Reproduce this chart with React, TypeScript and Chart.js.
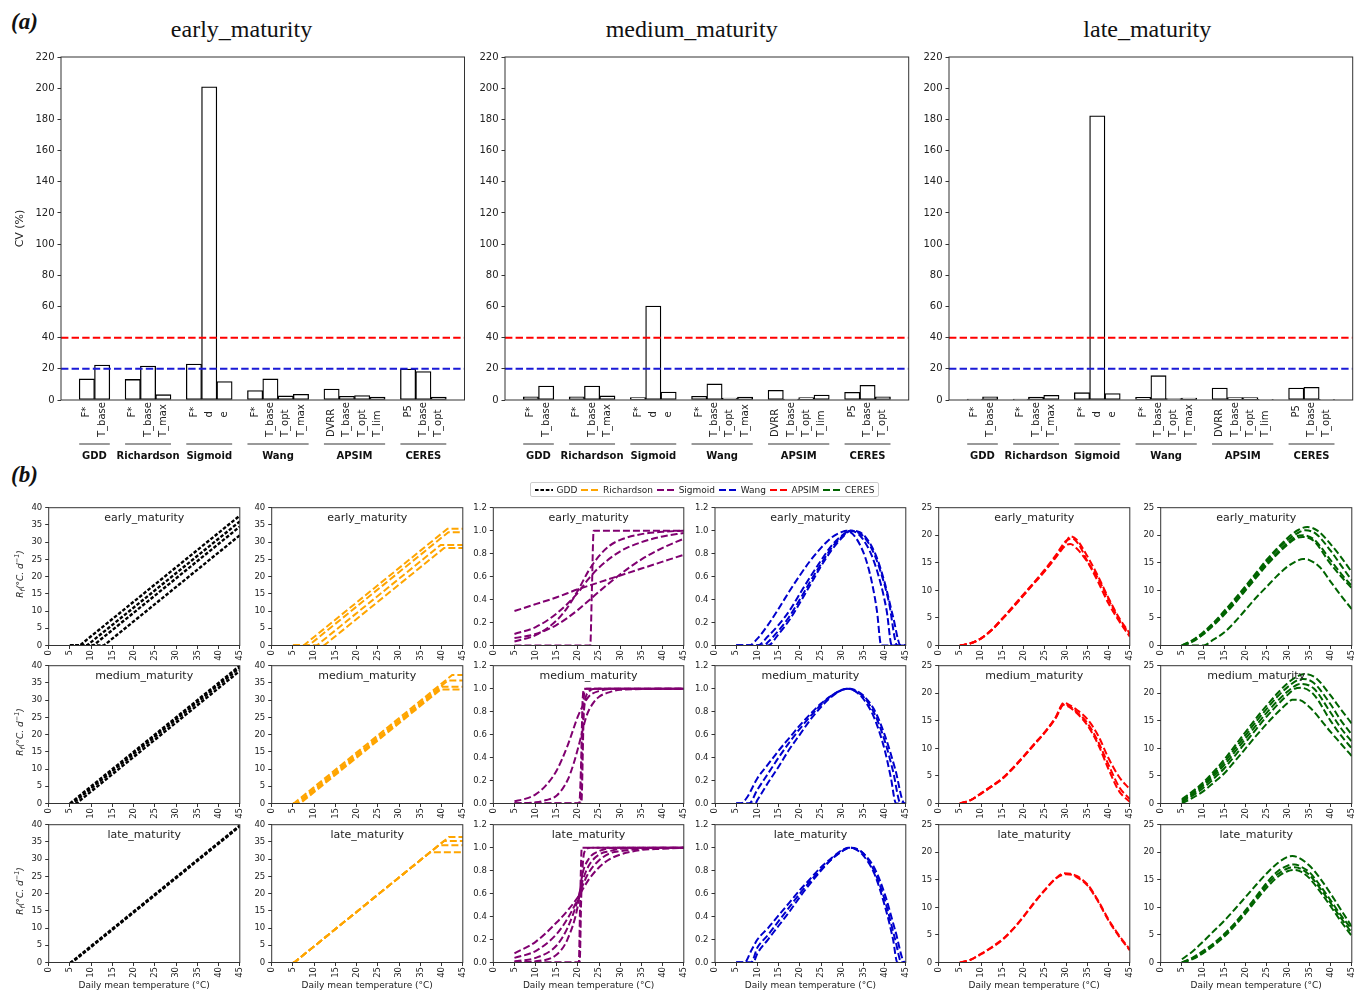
import React, { useEffect, useRef } from "react";
import { Chart, registerables } from "chart.js";

Chart.register(...registerables);
Chart.defaults.font.family = "'DejaVu Sans', sans-serif";
Chart.defaults.color = "#222";

type Pt = [number, number];

// ---------------- Panel (a) data ----------------
const paramLabels = ["F*", "T_base", "F*", "T_base", "T_max", "F*", "d", "e", "F*", "T_base", "T_opt", "T_max", "DVRR", "T_base", "T_opt", "T_lim", "P5", "T_base", "T_opt"];
const paramSlots = [0, 1, 3, 4, 5, 7, 8, 9, 11, 12, 13, 14, 16, 17, 18, 19, 21, 22, 23];
const modelNames = ["GDD", "Richardson", "Sigmoid", "Wang", "APSIM", "CERES"];
const modelSpans = [[0, 1], [3, 5], [7, 9], [11, 14], [16, 19], [21, 23]];
const cvEarly = [13.5, 22.4, 13.2, 21.8, 3.4, 23.1, 200.9, 11.8, 6.0, 13.5, 2.6, 3.6, 7.0, 2.4, 2.8, 1.9, 19.9, 18.2, 1.9];
const cvMedium = [2.1, 9.0, 2.1, 9.0, 2.6, 1.5, 60.3, 5.1, 2.4, 10.3, 1.3, 1.9, 6.2, 0.6, 1.5, 3.2, 4.9, 9.4, 2.1];
const cvLate = [0.6, 2.1, 0.6, 1.9, 3.0, 4.7, 182.3, 4.1, 1.7, 15.6, 0.9, 1.3, 7.7, 1.5, 1.5, 0.4, 7.7, 8.1, 0.4];
const cvMax = 220;
const cvStep = 20;
const thresholdValues = [40, 20];
const maturityNames = ["early_maturity", "medium_maturity", "late_maturity"];

// ---------------- Panel (b) data ----------------
const tempMax = 45;
const tempStep = 5;

const gddEarly: Pt[][] = [
  [[5, 0], [7.3, 0], [45, 37.7]],
  [[5, 0], [9, 0], [45, 36]],
  [[5, 0], [10.5, 0], [45, 34.5]],
  [[5, 0], [13, 0], [45, 32]],
];
const gddMedium: Pt[][] = [
  [[5, 0], [45, 40]],
  [[5, 0], [5.6, 0], [45, 39.4]],
  [[5, 0], [6.5, 0], [45, 38.5]],
];
const gddLate: Pt[][] = [
  [[5, 0], [5.2, 0], [45, 39.8]],
  [[5, 0], [5.5, 0], [45, 39.5]],
];

const richEarly: Pt[][] = [
  [[5, 0], [7.5, 0], [41.4, 33.9], [45, 33.9]],
  [[5, 0], [8.7, 0], [41.6, 32.9], [45, 32.9]],
  [[5, 0], [10.6, 0], [39.8, 29.2], [45, 29.2]],
  [[5, 0], [12.3, 0], [40.6, 28.3], [45, 28.3]],
];
const richMedium: Pt[][] = [
  [[5, 0], [5.2, 0], [42.5, 37.3], [45, 37.3]],
  [[5, 0], [5.8, 0], [41.5, 35.7], [45, 35.7]],
  [[5, 0], [6.3, 0], [40.2, 33.9], [45, 33.9]],
  [[5, 0], [6.7, 0], [39.8, 33.1], [45, 33.1]],
];
const richLate: Pt[][] = [
  [[5, 0], [5.3, 0], [37.3, 32], [45, 32]],
  [[5, 0], [5.3, 0], [39.3, 34], [45, 34]],
  [[5, 0], [5.3, 0], [40.6, 35.3], [45, 35.3]],
  [[5, 0], [5.3, 0], [41.7, 36.4], [45, 36.4]],
];

const sigEarly: Pt[][] = [
  [[5, 0.3], [10, 0.36], [15, 0.42], [20, 0.49], [25, 0.55], [30, 0.61], [35, 0.67], [40, 0.73], [45, 0.79]],
  [[5, 0], [22.9, 0], [23.3, 0.5], [23.7, 1], [45, 1]],
  [[5, 0.035], [10, 0.09], [15, 0.22], [17.5, 0.33], [20, 0.48], [22.5, 0.65], [25, 0.78], [27.5, 0.87], [30, 0.92], [35, 0.97], [40, 0.99], [45, 1]],
  [[5, 0.1], [10, 0.16], [15, 0.28], [20, 0.46], [22.5, 0.58], [25, 0.68], [30, 0.82], [35, 0.9], [40, 0.95], [45, 0.98]],
  [[5, 0.065], [10, 0.1], [15, 0.18], [20, 0.31], [22.5, 0.39], [25, 0.47], [30, 0.62], [35, 0.75], [40, 0.85], [45, 0.93]],
];
const sigMedium: Pt[][] = [
  [[5, 0.02], [7.5, 0.04], [10, 0.08], [12.5, 0.16], [15, 0.29], [17.5, 0.5], [20, 0.76], [21, 0.84], [22.5, 0.93], [25, 0.98], [30, 1], [45, 1]],
  [[5, 0], [10, 0.01], [12.5, 0.03], [15, 0.07], [17.5, 0.2], [19, 0.35], [20.5, 0.55], [22, 0.76], [23.5, 0.87], [25, 0.93], [27.5, 0.97], [30, 0.99], [45, 1]],
  [[5, 0], [20.3, 0], [20.7, 0.3], [21.1, 0.9], [21.5, 1], [45, 1]],
  [[5, 0], [20.6, 0], [21, 0.5], [21.5, 0.97], [22, 1], [45, 1]],
  [[5, 0], [20.8, 0], [21.4, 0.8], [22.5, 0.97], [24, 1], [45, 1]],
];
const sigLate: Pt[][] = [
  [[5, 0.08], [10, 0.18], [15, 0.35], [17.5, 0.45], [20, 0.57], [21, 0.63], [22.5, 0.72], [25, 0.83], [27.5, 0.9], [30, 0.94], [35, 0.98], [40, 0.99], [45, 1]],
  [[5, 0.04], [10, 0.1], [15, 0.25], [17.5, 0.38], [20, 0.56], [21, 0.66], [22.5, 0.78], [25, 0.89], [27.5, 0.95], [30, 0.97], [35, 0.99], [45, 1]],
  [[5, 0.01], [10, 0.04], [15, 0.15], [17.5, 0.3], [20, 0.55], [21, 0.7], [22.5, 0.84], [25, 0.94], [27.5, 0.97], [30, 0.99], [45, 1]],
  [[5, 0], [10, 0.01], [15, 0.07], [17.5, 0.2], [20, 0.5], [21, 0.76], [22.5, 0.9], [25, 0.97], [30, 1], [45, 1]],
  [[5, 0], [20.2, 0], [20.5, 0.5], [20.9, 1], [45, 1]],
  [[5, 0], [20.4, 0], [20.8, 0.6], [21.5, 0.96], [23, 1], [45, 1]],
];

const wangEarly: Pt[][] = [
  [[5, 0], [8, 0], [10, 0.06], [12.5, 0.18], [15, 0.32], [17.5, 0.47], [20, 0.61], [22.5, 0.74], [25, 0.85], [27.5, 0.94], [30, 0.99], [31, 1], [32.5, 0.97], [34, 0.89], [35.5, 0.76], [37, 0.55], [38.2, 0.3], [39.2, 0], [45, 0]],
  [[5, 0], [10, 0], [12.5, 0.08], [15, 0.18], [17.5, 0.3], [20, 0.45], [22.5, 0.6], [25, 0.74], [27.5, 0.87], [30, 0.96], [32, 1], [33.5, 0.98], [35, 0.92], [37, 0.78], [39, 0.55], [40.5, 0.3], [41.7, 0], [45, 0]],
  [[5, 0], [11.5, 0], [12.5, 0.03], [15, 0.13], [17.5, 0.25], [20, 0.4], [22.5, 0.56], [25, 0.71], [27.5, 0.85], [30, 0.95], [32, 1], [33.5, 0.99], [35, 0.95], [37, 0.84], [39, 0.65], [41, 0.38], [43, 0], [45, 0]],
  [[5, 0], [12.5, 0], [15, 0.1], [17.5, 0.22], [20, 0.37], [22.5, 0.53], [25, 0.69], [27.5, 0.83], [30, 0.94], [32, 1], [34, 0.99], [36, 0.92], [38, 0.78], [40, 0.55], [42, 0.25], [43.8, 0], [45, 0]],
];
const wangMedium: Pt[][] = [
  [[5, 0], [6, 0], [7.5, 0.05], [10, 0.22], [12.5, 0.34], [15, 0.46], [17.5, 0.57], [20, 0.68], [22.5, 0.78], [25, 0.87], [27.5, 0.94], [30, 0.99], [31, 1], [32.5, 0.99], [35, 0.91], [37.5, 0.75], [40, 0.47], [41.5, 0.22], [42.7, 0], [45, 0]],
  [[5, 0], [8, 0], [10, 0.12], [12.5, 0.26], [15, 0.4], [17.5, 0.53], [20, 0.65], [22.5, 0.76], [25, 0.86], [27.5, 0.94], [30, 0.99], [31.5, 1], [33, 0.98], [35, 0.93], [37.5, 0.79], [40, 0.55], [42, 0.28], [43.8, 0], [45, 0]],
  [[5, 0], [9.5, 0], [10, 0.03], [12.5, 0.18], [15, 0.32], [17.5, 0.47], [20, 0.6], [22.5, 0.73], [25, 0.84], [27.5, 0.93], [30, 0.99], [32, 1], [33.5, 0.98], [35, 0.94], [37.5, 0.82], [40, 0.6], [42.5, 0.3], [44.7, 0], [45, 0]],
];
const wangLate: Pt[][] = [
  [[5, 0], [7, 0], [8.5, 0.1], [10, 0.2], [12.5, 0.3], [15, 0.41], [17.5, 0.52], [20, 0.63], [22.5, 0.73], [25, 0.83], [27.5, 0.91], [30, 0.98], [31.5, 1], [33, 0.99], [35, 0.93], [37.5, 0.78], [40, 0.5], [42, 0.2], [43, 0], [45, 0]],
  [[5, 0], [8.5, 0], [10, 0.13], [12.5, 0.24], [15, 0.36], [17.5, 0.48], [20, 0.6], [22.5, 0.71], [25, 0.81], [27.5, 0.9], [30, 0.97], [31.5, 1], [33, 0.99], [35, 0.95], [37.5, 0.8], [40, 0.55], [42.5, 0.2], [44, 0], [45, 0]],
  [[5, 0], [9, 0], [10, 0.08], [12.5, 0.2], [15, 0.32], [17.5, 0.44], [20, 0.57], [22.5, 0.69], [25, 0.8], [27.5, 0.9], [30, 0.97], [32, 1], [33.5, 0.99], [35, 0.95], [37.5, 0.83], [40, 0.6], [42.5, 0.28], [44.8, 0], [45, 0]],
];

const apsimEarly: Pt[][] = [
  [[5, 0], [7.5, 0.4], [10, 1.3], [12.5, 2.8], [15, 4.9], [17.5, 7], [20, 9.2], [22.5, 11.4], [25, 13.6], [27.5, 16], [30, 18.8], [31, 19.8], [32.5, 19.2], [35, 16.2], [37.5, 12.6], [40, 8.6], [42.5, 5], [45, 2.2]],
  [[5, 0], [7.5, 0.4], [10, 1.3], [12.5, 2.9], [15, 4.9], [17.5, 7.1], [20, 9.3], [22.5, 11.5], [25, 13.8], [27.5, 16.3], [30, 19], [31.5, 19.4], [33, 18.3], [35, 15.3], [37.5, 11.6], [40, 7.6], [42.5, 4.4], [45, 1.6]],
  [[5, 0], [7.5, 0.4], [10, 1.3], [12.5, 2.8], [15, 4.8], [17.5, 6.9], [20, 9.1], [22.5, 11.3], [25, 13.5], [27.5, 15.9], [30, 18.2], [31, 18.4], [32.5, 17.6], [35, 15.2], [37.5, 12.2], [40, 8.3], [42.5, 4.7], [45, 2]],
];
const apsimMedium: Pt[][] = [
  [[5, 0], [7.5, 0.6], [10, 1.9], [12.5, 3.2], [15, 4.6], [17.5, 6.5], [20, 8.6], [22.5, 10.8], [25, 13], [27.5, 15.6], [29.5, 18.3], [30.5, 18], [32.5, 17], [35, 15.3], [37.5, 12.4], [40, 8.2], [42.5, 4.8], [45, 2.6]],
  [[5, 0], [7.5, 0.6], [10, 1.8], [12.5, 3.1], [15, 4.5], [17.5, 6.4], [20, 8.5], [22.5, 10.7], [25, 12.9], [27.5, 15.5], [29.5, 18.1], [30.5, 17.8], [32.5, 16.6], [35, 14.6], [37.5, 11.3], [40, 7], [42.5, 3], [45, 0.8]],
  [[5, 0], [7.5, 0.6], [10, 1.8], [12.5, 3.1], [15, 4.5], [17.5, 6.4], [20, 8.5], [22.5, 10.7], [25, 12.9], [27.5, 15.4], [29.5, 17.9], [30.5, 17.6], [32.5, 16.4], [35, 14.2], [37.5, 10.8], [40, 6.2], [42.5, 2.2], [45, 0.3]],
];
const apsimLate: Pt[][] = [
  [[5, 0], [7.5, 0.5], [10, 1.6], [12.5, 2.7], [15, 4.1], [17.5, 6], [20, 8.3], [22.5, 10.8], [25, 13.1], [27.5, 15.2], [29.5, 16.2], [31, 16.1], [32.5, 15.7], [35, 14.2], [37.5, 11.3], [40, 7.8], [42.5, 4.9], [45, 2.4]],
  [[5, 0], [7.5, 0.5], [10, 1.5], [12.5, 2.8], [15, 4.2], [17.5, 6.1], [20, 8.4], [22.5, 10.9], [25, 13.2], [27.5, 15.2], [30, 16], [31.5, 15.9], [32.5, 15.5], [35, 14], [37.5, 11.1], [40, 7.6], [42.5, 4.7], [45, 2.2]],
];

const ceresEarly: Pt[][] = [
  [[5, 0], [7.5, 1], [10, 2.4], [12.5, 4.2], [15, 6.3], [17.5, 8.5], [20, 10.8], [22.5, 13.2], [25, 15.6], [27.5, 17.7], [30, 19.6], [32.5, 21], [34.5, 21.5], [37, 20.8], [40, 18.4], [42.5, 16], [45, 13.3]],
  [[5, 0], [7.5, 0.9], [10, 2.2], [12.5, 4], [15, 6], [17.5, 8.2], [20, 10.5], [22.5, 12.9], [25, 15.3], [27.5, 17.4], [30, 19.2], [32.5, 20.5], [34, 20.9], [36.5, 20.3], [40, 17.2], [42.5, 14.5], [45, 11.8]],
  [[5, 0], [7.5, 0.8], [10, 2.1], [12.5, 3.9], [15, 5.9], [17.5, 8], [20, 10.3], [22.5, 12.6], [25, 14.9], [27.5, 16.9], [30, 18.7], [32, 19.8], [33.5, 20], [36, 19.3], [40, 15.5], [42.5, 13], [45, 10.8]],
  [[5, 0], [7.5, 0.7], [10, 2], [12.5, 3.7], [15, 5.6], [17.5, 7.7], [20, 10], [22.5, 12.3], [25, 14.6], [27.5, 16.6], [30, 18.4], [32, 19.5], [33.5, 19.7], [36, 19], [40, 14.8], [42.5, 12.5], [45, 10.4]],
  [[5, 0], [7.5, 0], [10, 0], [12.5, 1.1], [15, 2.4], [17.5, 4.3], [20, 6.5], [22.5, 8.7], [25, 10.7], [27.5, 12.7], [30, 14.4], [32.5, 15.5], [33.5, 15.7], [35, 15.5], [37.5, 14.2], [40, 11.6], [42.5, 9], [45, 6.6]],
];
const ceresMedium: Pt[][] = [
  [[5, 0.8], [7.5, 2.2], [10, 3.8], [12.5, 5.8], [15, 8], [17.5, 10.5], [20, 13], [22.5, 15.5], [25, 17.8], [27.5, 20], [30, 21.9], [32.5, 23.2], [34, 23.5], [36.5, 22.8], [40, 19.6], [42.5, 17], [45, 14.5]],
  [[5, 0.6], [7.5, 1.9], [10, 3.5], [12.5, 5.4], [15, 7.5], [17.5, 10], [20, 12.4], [22.5, 14.9], [25, 17.2], [27.5, 19.4], [30, 21.2], [32, 22.3], [33.5, 22.6], [36, 21.9], [40, 18], [42.5, 15], [45, 12.5]],
  [[5, 0.5], [7.5, 1.7], [10, 3.2], [12.5, 5], [15, 7], [17.5, 9.4], [20, 11.8], [22.5, 14.2], [25, 16.5], [27.5, 18.6], [30, 20.4], [32, 21.5], [33, 21.7], [36, 20.9], [40, 16.5], [42.5, 13.6], [45, 11.2]],
  [[5, 0.3], [7.5, 1.4], [10, 2.8], [12.5, 4.5], [15, 6.4], [17.5, 8.7], [20, 11.1], [22.5, 13.5], [25, 15.8], [27.5, 17.9], [30, 19.8], [31.5, 20.8], [33, 21], [36, 19.8], [40, 15], [42.5, 12.3], [45, 10]],
  [[5, 0], [7.5, 1], [10, 2.2], [12.5, 3.8], [15, 5.5], [17.5, 7.7], [20, 10], [22.5, 12.3], [25, 14.5], [27.5, 16.5], [30, 18.3], [31, 18.8], [32.5, 18.8], [35, 17.5], [40, 13], [42.5, 10.8], [45, 8.6]],
];
const ceresLate: Pt[][] = [
  [[5, 0.6], [7.5, 2], [10, 3.8], [12.5, 5.7], [15, 7.6], [17.5, 9.7], [20, 11.9], [22.5, 14.1], [25, 16.2], [27.5, 18], [30, 19.2], [31, 19.3], [32.5, 19], [35, 17.6], [37.5, 15.3], [40, 12.5], [42.5, 9.5], [45, 6.5]],
  [[5, 0], [7.5, 0.9], [10, 2.1], [12.5, 3.5], [15, 5.2], [17.5, 7.2], [20, 9.5], [22.5, 12], [25, 14.5], [27.5, 16.5], [30, 17.6], [31.5, 17.8], [33, 17.4], [35, 16.4], [37.5, 14], [40, 11.3], [42.5, 8.5], [45, 6]],
  [[5, 0], [7.5, 0.7], [10, 1.9], [12.5, 3.3], [15, 5], [17.5, 7], [20, 9.3], [22.5, 11.7], [25, 14.1], [27.5, 16], [30, 17.1], [31.5, 17.3], [33, 17], [35, 15.9], [37.5, 13.5], [40, 10.8], [42.5, 8], [45, 5.4]],
  [[5, 0], [7.5, 0.6], [10, 1.7], [12.5, 3.1], [15, 4.7], [17.5, 6.7], [20, 8.9], [22.5, 11.3], [25, 13.6], [27.5, 15.5], [30, 16.6], [31.5, 16.8], [33, 16.5], [35, 15.3], [37.5, 12.9], [40, 10.2], [42.5, 7.4], [45, 4.8]],
];

// ---------------- styles / layout ----------------
const MODELS = [
  { name: "GDD", color: "#000000", dash: [3.6, 1.8], width: 2.4, curved: false, yMax: 40, yStep: 5, dec: false, series: [gddEarly, gddMedium, gddLate] },
  { name: "Richardson", color: "#ffa500", dash: [7, 3], width: 2, curved: false, yMax: 40, yStep: 5, dec: false, series: [richEarly, richMedium, richLate] },
  { name: "Sigmoid", color: "#800070", dash: [7, 3], width: 2, curved: true, yMax: 1.2, yStep: 0.2, dec: true, series: [sigEarly, sigMedium, sigLate] },
  { name: "Wang", color: "#0000cd", dash: [7, 3], width: 2, curved: true, yMax: 1.2, yStep: 0.2, dec: true, series: [wangEarly, wangMedium, wangLate] },
  { name: "APSIM", color: "#ff0000", dash: [7, 3], width: 2, curved: true, yMax: 25, yStep: 5, dec: false, series: [apsimEarly, apsimMedium, apsimLate] },
  { name: "CERES", color: "#006400", dash: [7, 3], width: 2, curved: true, yMax: 25, yStep: 5, dec: false, series: [ceresEarly, ceresMedium, ceresLate] },
];
const THRESH_COLORS = ["#ff0000", "#1a1ad6"];
const BAR_PLOTS = [
  { left: 61, top: 57, w: 403.5, h: 343 },
  { left: 505, top: 57, w: 403.7, h: 343 },
  { left: 949, top: 57, w: 403.7, h: 343 },
];
const TITLE_CENTERS = [241.5, 691.7, 1147.3];
const X_MIN = -1.69;
const X_MAX = 24.69;
const COL_LEFTS = [48.7, 271.7, 493.3, 715, 938.7, 1160.7];
const ROW_TOPS = [507.7, 665.7, 824.7];
const PLOT_W = 193.5;
const PLOT_H = 137.8;

const framePlugin = {
  id: "frame",
  afterDraw(chart: any) {
    const { ctx, chartArea: a } = chart;
    ctx.save();
    ctx.strokeStyle = "#333";
    ctx.lineWidth = 1;
    ctx.strokeRect(a.left, a.top, a.right - a.left, a.bottom - a.top);
    ctx.restore();
  },
};

const innerTitlePlugin = {
  id: "innerTitle",
  afterDraw(chart: any, _args: any, opts: any) {
    if (!opts || !opts.text) return;
    const { ctx, chartArea: a } = chart;
    ctx.save();
    ctx.font = "11px 'DejaVu Sans'";
    ctx.fillStyle = "#222";
    ctx.textAlign = "center";
    ctx.textBaseline = "middle";
    ctx.fillText(opts.text, (a.left + a.right) / 2, a.top + 10.5);
    ctx.restore();
  },
};

const barLabelPlugin = {
  id: "barLabels",
  afterDraw(chart: any) {
    const { ctx, chartArea: a } = chart;
    const x = chart.scales.x;
    ctx.save();
    ctx.fillStyle = "#222";
    ctx.font = "10px 'DejaVu Sans'";
    ctx.textBaseline = "middle";
    ctx.textAlign = "left";
    paramLabels.forEach((lab, i) => {
      const px = x.getPixelForValue(paramSlots[i]);
      const by = a.bottom + (lab.length > 2 ? 37 : 17.5);
      ctx.save();
      ctx.translate(px, by);
      ctx.rotate(-Math.PI / 2);
      ctx.fillText(lab, 0, 0);
      ctx.restore();
    });
    ctx.strokeStyle = "#999";
    ctx.lineWidth = 2;
    ctx.font = "bold 10px 'DejaVu Sans'";
    ctx.textAlign = "center";
    ctx.fillStyle = "#111";
    modelSpans.forEach(([s, e], gi) => {
      const x0 = x.getPixelForValue(s - 0.5);
      const x1 = x.getPixelForValue(e + 0.5);
      const y = a.bottom + 44;
      ctx.beginPath();
      ctx.moveTo(x0, y);
      ctx.lineTo(x1, y);
      ctx.stroke();
      ctx.fillText(modelNames[gi], (x0 + x1) / 2, a.bottom + 56);
    });
    ctx.restore();
  },
};

function BarPanel({ idx }: { idx: number }) {
  const ref = useRef<HTMLCanvasElement>(null);
  const p = BAR_PLOTS[idx];
  const wantL = idx === 0 ? 61 : 40;
  const cl = Math.floor(p.left - wantL);
  const padL = p.left - cl;
  const ct = Math.floor(p.top - 10);
  const padT = p.top - ct;
  const padB = 70;
  const cw = Math.min(Math.ceil(padL + p.w + 6), 1355 - cl);
  const padR = cw - padL - p.w;
  const ch = Math.ceil(padT + p.h + padB);
  const extraB = ch - padT - p.h - padB;
  const values = [cvEarly, cvMedium, cvLate][idx];
  useEffect(() => {
    const chart = new Chart(ref.current as HTMLCanvasElement, {
      type: "bar",
      data: {
        datasets: [
          ...thresholdValues.map((v, i) => ({
            type: "line" as const,
            data: [{ x: X_MIN, y: v }, { x: X_MAX, y: v }],
            borderColor: THRESH_COLORS[i],
            borderWidth: 2,
            borderDash: [7.4, 3.2],
            pointRadius: 0,
            fill: false,
            order: 0,
          })),
          {
            type: "bar" as const,
            data: paramSlots.map((s, i) => ({ x: s, y: values[i] })),
            backgroundColor: "#ffffff",
            borderColor: "#000000",
            borderWidth: 1.3,
            borderSkipped: false,
            barPercentage: 1,
            categoryPercentage: 1,
            order: 1,
          },
        ],
      } as any,
      options: {
        responsive: false,
        animation: false,
        devicePixelRatio: 1,
        layout: { padding: { top: padT, right: padR, bottom: extraB, left: 0 } },
        plugins: { legend: { display: false }, tooltip: { enabled: false } },
        scales: {
          x: {
            type: "linear",
            offset: false,
            min: X_MIN,
            max: X_MAX,
            ticks: { display: false },
            grid: { display: false, offset: false },
            border: { display: false },
            afterBuildTicks: (s: any) => {
              s.ticks = paramSlots.map((v) => ({ value: v }));
            },
            afterFit: (s: any) => {
              s.height = padB;
            },
          },
          y: {
            min: 0,
            max: cvMax,
            ticks: { stepSize: cvStep, font: { size: 10 }, color: "#222", padding: 3, autoSkip: false },
            grid: { drawOnChartArea: false, tickLength: 3.5, color: "#333" },
            border: { display: false },
            title: idx === 0
              ? { display: true, text: "CV (%)", font: { size: 11 }, color: "#222", padding: { top: 13.4, bottom: 0 } }
              : { display: false },
            afterFit: (s: any) => {
              s.width = padL;
            },
          },
        },
      } as any,
      plugins: [framePlugin, barLabelPlugin],
    });
    return () => chart.destroy();
  }, []);
  return <canvas ref={ref} width={cw} height={ch} style={{ position: "absolute", left: cl, top: ct, width: cw, height: ch }} />;
}

function LinePanel({ r, c }: { r: number; c: number }) {
  const ref = useRef<HTMLCanvasElement>(null);
  const plotL = COL_LEFTS[c];
  const plotT = ROW_TOPS[r];
  const wantL = c === 0 ? 48 : 30;
  const cl = Math.floor(plotL - wantL);
  const padL = plotL - cl;
  const ct = Math.floor(plotT - 8);
  const padT = plotT - ct;
  const padB = r === 2 ? 28.8 : 18;
  const cw = Math.ceil(padL + PLOT_W + 8);
  const padR = cw - padL - PLOT_W;
  const ch = Math.ceil(padT + PLOT_H + padB);
  const extraB = ch - padT - PLOT_H - padB;
  useEffect(() => {
    const m = MODELS[c];
    const chart = new Chart(ref.current as HTMLCanvasElement, {
      type: "line",
      data: {
        datasets: m.series[r].map((s) => ({
          data: s.map(([x, y]) => ({ x, y })),
          borderColor: m.color,
          borderWidth: m.width,
          borderDash: m.dash,
          pointRadius: 0,
          fill: false,
          tension: 0,
          cubicInterpolationMode: m.curved ? "monotone" : "default",
        })),
      } as any,
      options: {
        responsive: false,
        animation: false,
        devicePixelRatio: 1,
        layout: { padding: { top: padT, right: padR, bottom: extraB, left: 0 } },
        plugins: {
          legend: { display: false },
          tooltip: { enabled: false },
          innerTitle: { text: maturityNames[r] },
        },
        scales: {
          x: {
            type: "linear",
            min: 0,
            max: tempMax,
            ticks: { stepSize: tempStep, minRotation: 90, maxRotation: 90, autoSkip: false, font: { size: 8.5 }, color: "#222", padding: 1 },
            grid: { drawOnChartArea: false, tickLength: 3.5, color: "#333" },
            border: { display: false },
            title: r === 2
              ? { display: true, text: "Daily mean temperature (°C)", font: { size: 9 }, color: "#222", padding: { top: 0, bottom: 0 } }
              : { display: false },
            afterFit: (s: any) => {
              s.height = padB;
            },
          },
          y: {
            min: 0,
            max: m.yMax,
            ticks: {
              stepSize: m.yStep,
              autoSkip: false,
              font: { size: 8.5 },
              color: "#222",
              padding: 3,
              callback: (v: any) => (m.dec ? Number(v).toFixed(1) : String(Math.round(Number(v)))),
            },
            grid: { drawOnChartArea: false, tickLength: 3.5, color: "#333" },
            border: { display: false },
            afterFit: (s: any) => {
              s.width = padL;
            },
          },
        },
      } as any,
      plugins: [framePlugin, innerTitlePlugin],
    });
    return () => chart.destroy();
  }, []);
  return <canvas ref={ref} width={cw} height={ch} style={{ position: "absolute", left: cl, top: ct, width: cw, height: ch }} />;
}

export default function App() {
  const serif = "'Liberation Serif', 'Times New Roman', serif";
  const sans = "'DejaVu Sans', sans-serif";
  return (
    <div style={{ position: "fixed", left: 0, top: 0, width: 1355, height: 992, overflow: "hidden", background: "#fff" }}>
      <div style={{ position: "absolute", left: 11, top: 9, fontFamily: serif, fontSize: 23, fontWeight: "bold", fontStyle: "italic", lineHeight: "26px", color: "#111" }}>(a)</div>
      <div style={{ position: "absolute", left: 11, top: 462, fontFamily: serif, fontSize: 23, fontWeight: "bold", fontStyle: "italic", lineHeight: "26px", color: "#111" }}>(b)</div>
      {maturityNames.map((t, i) => (
        <div key={t} style={{ position: "absolute", left: TITLE_CENTERS[i] - 200, width: 400, top: 15, textAlign: "center", fontFamily: serif, fontSize: 24, lineHeight: "28px", color: "#111" }}>{t}</div>
      ))}
      {[0, 1, 2].map((i) => (
        <BarPanel key={"b" + i} idx={i} />
      ))}
      {[0, 1, 2].map((r) =>
        [0, 1, 2, 3, 4, 5].map((c) => <LinePanel key={"l" + r + c} r={r} c={c} />)
      )}
      {ROW_TOPS.map((t, r) => (
        <div key={"yl" + r} style={{ position: "absolute", left: 20, top: t + PLOT_H / 2 - 3, transform: "translate(-50%, -50%) rotate(-90deg)", whiteSpace: "nowrap", fontFamily: sans, fontSize: 9, fontStyle: "italic", color: "#222" }}>
          R<sub style={{ fontSize: 7 }}>f</sub>(°C. d<sup style={{ fontSize: 6.5 }}>−1</sup>)
        </div>
      ))}
      <div style={{ position: "absolute", left: 530, top: 482, width: 349, height: 15, border: "1px solid #ccc", borderRadius: 2, boxSizing: "border-box", display: "flex", alignItems: "center", justifyContent: "space-evenly", fontFamily: sans, fontSize: 9, color: "#222", background: "#fff" }}>
        {MODELS.map((m) => (
          <span key={m.name} style={{ display: "flex", alignItems: "center" }}>
            <svg width="18" height="4">
              <line x1="0" y1="2" x2="18" y2="2" stroke={m.color} strokeWidth={2} strokeDasharray={m.dash.join(" ")} />
            </svg>
            <span style={{ marginLeft: 4 }}>{m.name}</span>
          </span>
        ))}
      </div>
    </div>
  );
}
